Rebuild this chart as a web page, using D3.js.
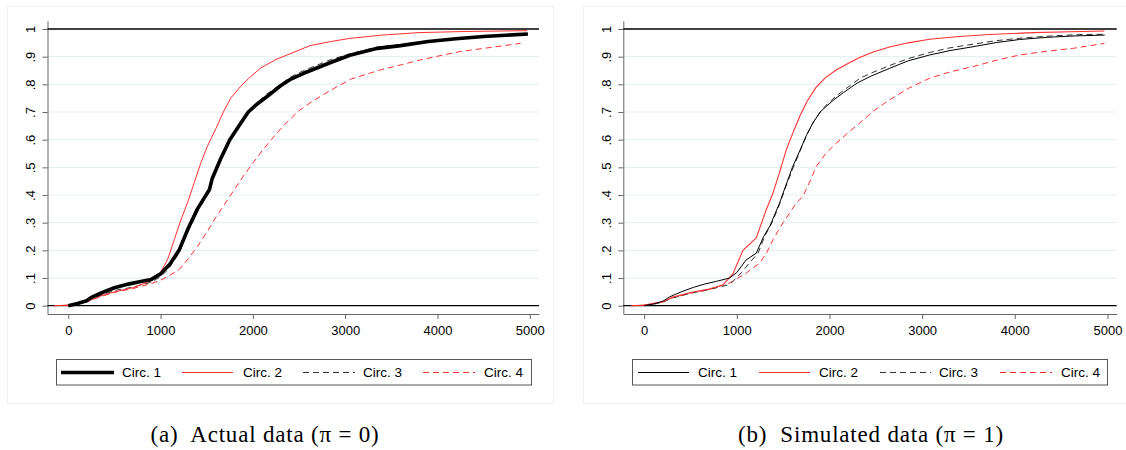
<!DOCTYPE html>
<html>
<head>
<meta charset="utf-8">
<script src="https://cdn.jsdelivr.net/npm/d3@7"></script>
<style>
  body { margin: 0; background: #fff; }
  svg { display: block; }
  .tick text { font-family: "Liberation Sans", Arial, sans-serif; font-size: 13px; fill: #000; }
</style>
</head>
<body>
<svg id="chart" width="1126" height="450"></svg>
<script>
// tick values shared by both panels
const xTicks = [0, 1000, 2000, 3000, 4000, 5000];
const yTicks = [0, 0.1, 0.2, 0.3, 0.4, 0.5, 0.6, 0.7, 0.8, 0.9, 1];
const yTickLabels = ["0", ".1", ".2", ".3", ".4", ".5", ".6", ".7", ".8", ".9", "1"];
const seriesNames = ["Circ. 1", "Circ. 2", "Circ. 3", "Circ. 4"];
const captions = ["(a)  Actual data (\u03c0 = 0)", "(b)  Simulated data (\u03c0 = 1)"];

// panel (a) : actual data, [value, cumulative share]
const actualCirc1 = [[0,0],[100,0.008],[200,0.018],[250,0.03],[350,0.045],[500,0.065],[650,0.078],[800,0.088],[900,0.095],[1000,0.115],[1100,0.15],[1200,0.2],[1300,0.28],[1400,0.35],[1530,0.42],[1560,0.46],[1650,0.53],[1750,0.6],[1850,0.65],[1950,0.7],[2050,0.73],[2150,0.755],[2300,0.795],[2400,0.817],[2550,0.84],[2700,0.86],[2850,0.88],[3050,0.905],[3350,0.93],[3600,0.94],[3900,0.955],[4200,0.965],[4500,0.973],[4980,0.982]];
const actualCirc2 = [[-150,0],[0,0.002],[200,0.015],[350,0.035],[500,0.05],[700,0.065],[900,0.09],[1000,0.12],[1080,0.17],[1150,0.24],[1220,0.31],[1290,0.37],[1360,0.44],[1430,0.51],[1500,0.57],[1540,0.6],[1600,0.64],[1680,0.7],[1760,0.75],[1860,0.79],[1950,0.82],[2080,0.858],[2250,0.89],[2400,0.91],[2620,0.94],[2850,0.955],[3050,0.966],[3400,0.978],[3800,0.987],[4300,0.991],[4970,0.994]];
const actualCirc3 = [[0,0],[100,0.006],[200,0.015],[300,0.03],[500,0.055],[700,0.067],[900,0.085],[1000,0.105],[1080,0.13],[1200,0.19],[1300,0.27],[1400,0.34],[1520,0.41],[1570,0.46],[1660,0.54],[1760,0.6],[1860,0.66],[1950,0.7],[2050,0.735],[2150,0.765],[2300,0.8],[2400,0.825],[2550,0.85],[2700,0.87],[2850,0.89],[3050,0.91],[3350,0.935],[3650,0.945],[3950,0.958],[4250,0.967],[4550,0.975],[4950,0.983]];
const actualCirc4 = [[-150,0],[0,0.002],[200,0.014],[350,0.033],[500,0.048],[700,0.062],[900,0.08],[1000,0.092],[1100,0.11],[1200,0.13],[1300,0.17],[1400,0.214],[1500,0.265],[1600,0.32],[1700,0.37],[1800,0.42],[1900,0.47],[2000,0.515],[2100,0.56],[2200,0.6],[2330,0.65],[2500,0.705],[2650,0.74],[2850,0.78],[3070,0.82],[3380,0.852],[3600,0.87],[3810,0.888],[4050,0.905],[4240,0.918],[4500,0.93],[4900,0.948]];

// panel (b) : simulated data
const simCirc1 = [[0,0],[100,0.006],[200,0.016],[275,0.032],[400,0.05],[530,0.066],[650,0.078],[780,0.088],[920,0.1],[1000,0.12],[1100,0.165],[1210,0.19],[1290,0.25],[1360,0.29],[1460,0.37],[1535,0.44],[1600,0.5],[1680,0.56],[1750,0.615],[1820,0.66],[1900,0.7],[1965,0.72],[2050,0.745],[2150,0.77],[2300,0.805],[2450,0.83],[2650,0.858],[2850,0.885],[3080,0.906],[3300,0.922],[3550,0.936],[3800,0.951],[4050,0.962],[4350,0.97],[4650,0.975],[4970,0.978]];
const simCirc2 = [[-140,0],[0,0.002],[200,0.014],[300,0.03],[500,0.048],[700,0.06],[850,0.075],[958,0.115],[1066,0.2],[1130,0.22],[1210,0.245],[1318,0.347],[1390,0.407],[1460,0.48],[1534,0.563],[1600,0.62],[1677,0.683],[1760,0.74],[1857,0.79],[1960,0.825],[2073,0.852],[2200,0.875],[2325,0.897],[2480,0.918],[2648,0.935],[2850,0.95],[3080,0.963],[3400,0.973],[3727,0.98],[4200,0.987],[4600,0.99],[4968,0.993]];
const simCirc3 = [[0,0],[100,0.005],[200,0.013],[300,0.027],[500,0.045],[700,0.058],[900,0.075],[950,0.085],[1050,0.12],[1150,0.16],[1230,0.19],[1300,0.25],[1380,0.3],[1460,0.365],[1540,0.44],[1610,0.5],[1690,0.565],[1760,0.62],[1830,0.665],[1910,0.705],[1980,0.73],[2080,0.76],[2200,0.79],[2330,0.822],[2480,0.845],[2650,0.868],[2850,0.893],[3080,0.915],[3300,0.932],[3550,0.945],[3800,0.958],[4100,0.968],[4400,0.975],[4700,0.98],[4990,0.981]];
const simCirc4 = [[-140,0],[0,0.002],[200,0.013],[300,0.028],[500,0.045],[700,0.058],[779,0.067],[922,0.082],[1102,0.118],[1246,0.154],[1320,0.19],[1390,0.238],[1470,0.285],[1570,0.335],[1640,0.37],[1713,0.395],[1790,0.45],[1857,0.503],[1960,0.55],[2073,0.587],[2200,0.625],[2325,0.66],[2480,0.705],[2648,0.744],[2850,0.785],[3080,0.822],[3300,0.845],[3547,0.864],[3800,0.887],[4051,0.906],[4350,0.92],[4626,0.93],[4968,0.948]];

const RED = "#ff3030";
const GRID = "#e8f0f2";

const svg = d3.select("#chart");

// function to draw one panel
function drawPanel (cfg) {
  const g = svg.append("g");

  // faint outer frame of the graph region
  g.append("rect")
    .attr("x", cfg.frame[0] + 0.5).attr("y", 6.5)
    .attr("width", cfg.frame[1] - cfg.frame[0]).attr("height", 397)
    .attr("fill", "none").attr("stroke", "#edf3f4");

  const xScale = d3.scaleLinear().domain([-225, 5100]).range(cfg.xRange);
  const yScale = d3.scaleLinear().domain([-0.03, 1.03]).range([314, 20.7]);

  // grid lines
  g.append("g").selectAll("line")
    .data(yTicks.filter(d => d > 0 && d < 1))
    .join("line")
    .attr("x1", cfg.xRange[0]).attr("x2", cfg.xRange[1])
    .attr("y1", d => yScale(d)).attr("y2", d => yScale(d))
    .attr("stroke", GRID).attr("stroke-width", 1.2);

  // y axis
  const yAxis = g.append("g")
    .attr("transform", `translate(${cfg.xRange[0]}, 0)`)
    .call(d3.axisLeft(yScale).tickValues(yTicks).tickSize(5).tickSizeOuter(0)
      .tickFormat((d, i) => yTickLabels[i]));
  yAxis.selectAll(".tick text")
    .attr("transform", "rotate(-90)")
    .attr("text-anchor", "middle")
    .attr("x", 0).attr("y", -12.5).attr("dy", 0);

  // x axis
  g.append("g")
    .attr("transform", "translate(0, 314)")
    .call(d3.axisBottom(xScale).tickValues(xTicks).tickSize(5).tickSizeOuter(0).tickPadding(7)
      .tickFormat(d3.format("d")));

  g.selectAll(".domain").attr("stroke", "#666");
  g.selectAll(".tick line").attr("stroke", "#666");

  // reference lines at 0 and 1
  g.append("g").selectAll("line")
    .data([0, 1])
    .join("line")
    .attr("x1", cfg.xRange[0]).attr("x2", cfg.xRange[1])
    .attr("y1", d => yScale(d)).attr("y2", d => yScale(d))
    .attr("stroke", "#000").attr("stroke-width", 1.3);

  const line = d3.line()
    .x(d => xScale(d[0]))
    .y(d => yScale(d[1]));

  // draw order: dashed first, solids on top
  const order = [3, 2, 1, 0];
  g.append("g").selectAll("path")
    .data(order)
    .join("path")
    .attr("d", i => line(cfg.series[i]))
    .attr("fill", "none")
    .attr("stroke", i => cfg.styles[i].color)
    .attr("stroke-width", i => cfg.styles[i].width)
    .attr("stroke-dasharray", i => cfg.styles[i].dash)
    .attr("stroke-linejoin", "round");

  // legend
  const leg = g.append("g");
  leg.append("rect")
    .attr("x", cfg.legend.x + 0.5).attr("y", 359.5)
    .attr("width", cfg.legend.w).attr("height", 25.5)
    .attr("fill", "#fff").attr("stroke", "#555");

  cfg.legend.items.forEach((it, i) => {
    leg.append("line")
      .attr("x1", it[0]).attr("x2", it[1])
      .attr("y1", 372.5).attr("y2", 372.5)
      .attr("stroke", cfg.styles[i].color)
      .attr("stroke-width", cfg.styles[i].width)
      .attr("stroke-dasharray", cfg.styles[i].dash);
    leg.append("text")
      .attr("x", it[2]).attr("y", 377)
      .style("font-family", "'Liberation Sans', Arial, sans-serif")
      .style("font-size", "13.5px")
      .text(seriesNames[i]);
  });

  // caption
  g.append("text")
    .attr("x", cfg.captionX).attr("y", 442)
    .attr("text-anchor", "middle")
    .style("font-family", "'Liberation Serif', 'Times New Roman', serif")
    .style("font-size", "23px")
    .style("letter-spacing", "0.8px")
    .style("white-space", "pre")
    .text(cfg.caption);
}

drawPanel({
  frame: [7, 553],
  xRange: [47.5, 539],
  series: [actualCirc1, actualCirc2, actualCirc3, actualCirc4],
  styles: [
    {color: "#000", width: 3.6, dash: null},
    {color: RED, width: 1, dash: null},
    {color: "#333", width: 1, dash: "6,4"},
    {color: RED, width: 1, dash: "6,4"}
  ],
  legend: {x: 56, w: 475, items: [[61, 114, 122], [182, 233, 243], [303, 355, 363], [423, 475, 484]]},
  caption: captions[0],
  captionX: 265
});

drawPanel({
  frame: [583, 1130],
  xRange: [623.3, 1116.7],
  series: [simCirc1, simCirc2, simCirc3, simCirc4],
  styles: [
    {color: "#000", width: 1, dash: null},
    {color: RED, width: 1.1, dash: null},
    {color: "#333", width: 1, dash: "6,4"},
    {color: RED, width: 1, dash: "6,4"}
  ],
  legend: {x: 632, w: 475, items: [[638, 689, 698], [759, 810, 819], [880, 931, 939], [1000, 1052, 1061]]},
  caption: captions[1],
  captionX: 871
});
</script>
</body>
</html>
